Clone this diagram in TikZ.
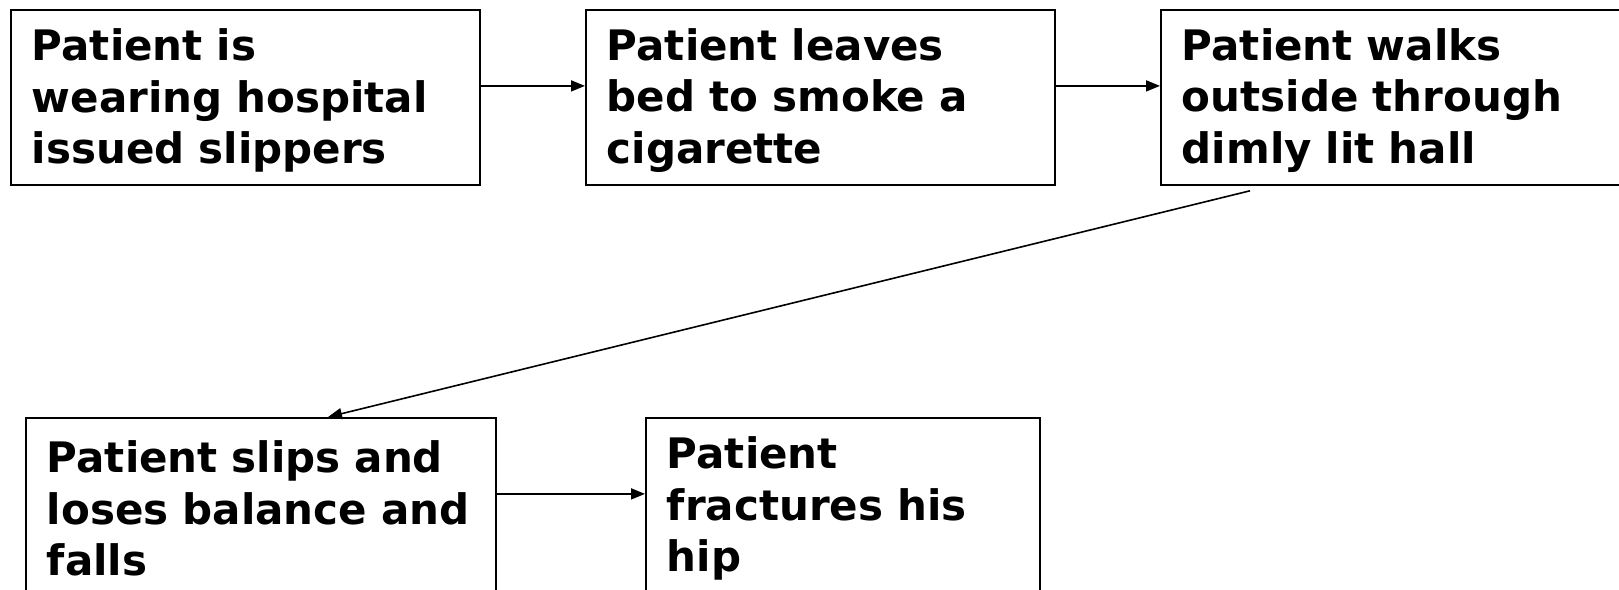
\documentclass[tikz,border=0pt]{standalone}
\usepackage{fontspec}
\setmainfont{DejaVu Sans}
\usetikzlibrary{arrows.meta}
\begin{document}
\begin{tikzpicture}[x=1pt,y=-1pt,
  stepbox/.style={draw, line width=1.8pt, rectangle, anchor=north west,
    minimum height=175pt, inner xsep=21pt, inner ysep=0pt, align=left,
    font=\fontsize{42}{51.6}\selectfont\bfseries,
    execute at begin node={\rule{0pt}{38pt}}},
  arr/.style={line width=1.6pt, -{Triangle[length=14pt,width=11pt]}}]
  \useasboundingbox (0,0) rectangle (1619,589);
  % top row
  \node[stepbox, text width=427pt] (b1) at (10,9)
    {Patient is\\wearing hospital\\issued slippers};
  \node[stepbox, text width=427pt] (b2) at (585,9)
    {Patient leaves\\bed to smoke a\\cigarette};
  \node[stepbox, text width=427pt] (b3) at (1160,9)
    {Patient walks\\outside through\\dimly lit hall};
  % bottom row
  \node[stepbox, text width=428pt] (b4) at (25,417)
    {Patient slips and\\loses balance and\\falls};
  \node[stepbox, text width=352pt] (b5) at (645,417)
    {Patient\\fractures his\\hip};
  % connectors
  \draw[arr] ([yshift=11.5pt]b1.east) -- ([yshift=11.5pt]b2.west);
  \draw[arr] ([yshift=11.5pt]b2.east) -- ([yshift=11.5pt]b3.west);
  \coordinate (s3) at ([xshift=90pt,yshift=-5pt]b3.south west);
  \coordinate (e4) at ([xshift=303pt]b4.north west);
  \draw[arr] (s3) -- (e4);
  \draw[arr] ([yshift=11.5pt]b4.east) -- ([yshift=11.5pt]b5.west);
\end{tikzpicture}
\end{document}
